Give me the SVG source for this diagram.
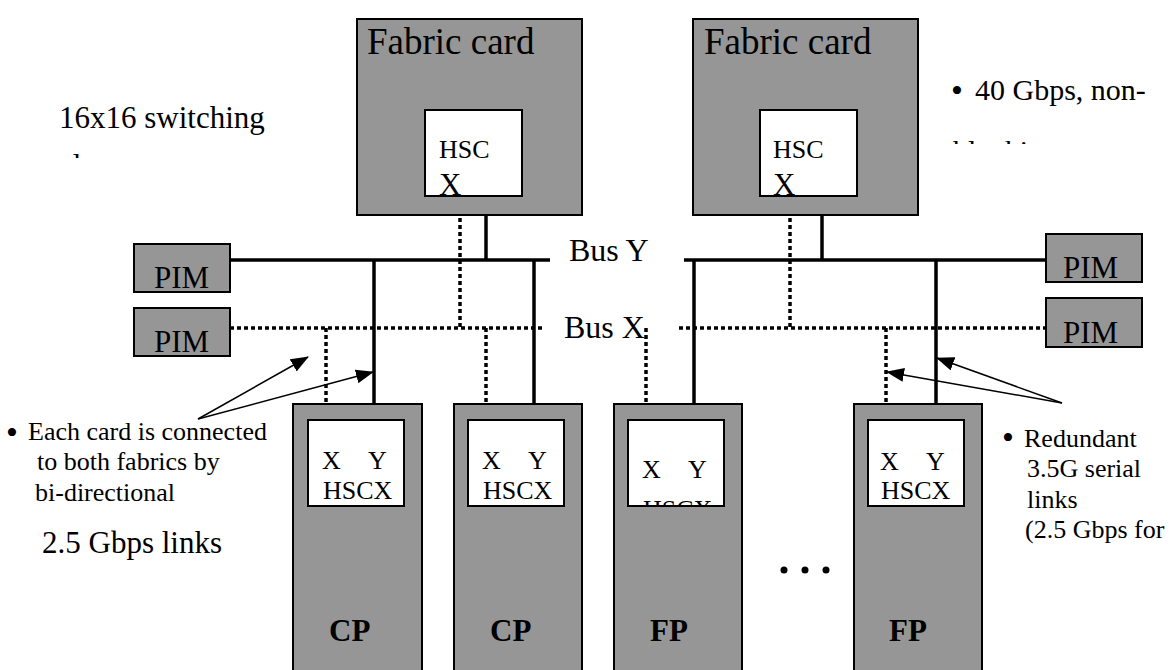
<svg xmlns="http://www.w3.org/2000/svg" width="1174" height="670" viewBox="0 0 1174 670">
  <style>
    text { font-family: "Liberation Serif", "Times New Roman", serif; fill: #000; }
    .card { fill: #969696; stroke: #000; stroke-width: 2; }
    .chip { fill: #fff; stroke: #000; stroke-width: 2; }
    .busY { stroke: #000; stroke-width: 3.5; fill: none; }
    .busX { stroke: #000; stroke-width: 3.5; fill: none; stroke-dasharray: 4 3; }
    .ptr { stroke: #000; stroke-width: 1.5; fill: none; marker-end: url(#head); }
    .big { font-size: 37px; }
    .hsc { font-size: 26px; }
    .hscx { font-size: 31px; }
    .pim { font-size: 31px; }
    .bus { font-size: 32px; }
    .port { font-size: 26px; }
    .kind { font-size: 31px; font-weight: bold; }
    .note { font-size: 26px; }
    .lead { font-size: 31px; }
    .dot { font-size: 34px; }
  </style>
  <defs>
    <marker id="head" markerUnits="userSpaceOnUse" markerWidth="18" markerHeight="14" refX="17" refY="7" orient="auto">
      <path d="M0,0 L18,7 L0,14 Z" fill="#000"/>
    </marker>
    <clipPath id="clipLeftTitle"><rect x="40" y="90" width="260" height="68"/></clipPath>
    <clipPath id="clipRightTitle"><rect x="940" y="60" width="234" height="84"/></clipPath>
    <clipPath id="clipHsc1"><rect x="425" y="111" width="96" height="85"/></clipPath>
    <clipPath id="clipHsc2"><rect x="761" y="111" width="96" height="85"/></clipPath>
    <clipPath id="clipFp1"><rect x="629" y="421" width="94" height="84"/></clipPath>
  </defs>

  <!-- feature notes at the top -->
  <g id="note-switching" clip-path="url(#clipLeftTitle)">
    <text class="lead" x="59" y="128">16x16 switching</text>
    <text class="lead" x="59" y="176">element</text>
  </g>
  <g id="note-bandwidth" clip-path="url(#clipRightTitle)">
    <text class="dot" x="951" y="102">•</text>
    <text class="lead" x="975" y="100" style="font-size:30px">40 Gbps, non-</text>
    <text class="lead" x="953" y="161" style="font-size:30px">blocking</text>
  </g>

  <!-- connectors: buses, card links and pointers -->
  <g id="connectors">
    <!-- Bus Y (solid) -->
    <line class="busY" x1="230" y1="260" x2="550" y2="260"/>
    <line class="busY" x1="684" y1="260" x2="1046" y2="260"/>
    <!-- Bus X (dotted) -->
    <line class="busX" x1="230" y1="328" x2="544" y2="328"/>
    <line class="busX" x1="679" y1="328" x2="1046" y2="328"/>
    <!-- fabric card links -->
    <line class="busY" x1="486" y1="196" x2="486" y2="260"/>
    <line class="busX" x1="460" y1="197" x2="460" y2="328"/>
    <line class="busY" x1="822" y1="196" x2="822" y2="260"/>
    <line class="busX" x1="790" y1="197" x2="790" y2="328"/>
    <!-- line card links -->
    <line class="busY" x1="374" y1="260" x2="374" y2="420"/>
    <line class="busX" x1="326" y1="328" x2="326" y2="420"/>
    <line class="busY" x1="534" y1="260" x2="534" y2="420"/>
    <line class="busX" x1="486" y1="328" x2="486" y2="420"/>
    <line class="busY" x1="694" y1="260" x2="694" y2="420"/>
    <line class="busX" x1="646" y1="328" x2="646" y2="420"/>
    <line class="busY" x1="936" y1="260" x2="936" y2="420"/>
    <line class="busX" x1="886" y1="328" x2="886" y2="420"/>
    <!-- pointers -->
    <line class="ptr" x1="198" y1="419" x2="308" y2="357"/>
    <line class="ptr" x1="198" y1="419" x2="373" y2="372"/>
    <line class="ptr" x1="1062" y1="403" x2="937" y2="358"/>
    <line class="ptr" x1="1062" y1="403" x2="887" y2="372"/>
  </g>

  <!-- bus labels -->
  <g id="label-busY"><text class="bus" x="569" y="261">Bus Y</text></g>
  <g id="label-busX"><text class="bus" x="564" y="338">Bus X</text></g>

  <!-- fabric cards -->
  <g id="fabric-1">
    <rect class="card" x="357" y="19" width="225" height="196"/>
    <text class="big" x="367" y="54">Fabric card</text>
    <rect class="chip" x="425" y="110" width="97" height="86"/>
    <g clip-path="url(#clipHsc1)">
      <text class="hsc" x="439" y="158">HSC</text>
      <text class="hscx" x="439" y="195">X</text>
    </g>
  </g>
  <g id="fabric-2">
    <rect class="card" x="693" y="19" width="225" height="196"/>
    <text class="big" x="704" y="54">Fabric card</text>
    <rect class="chip" x="760" y="110" width="97" height="86"/>
    <g clip-path="url(#clipHsc2)">
      <text class="hsc" x="773" y="158">HSC</text>
      <text class="hscx" x="773" y="195">X</text>
    </g>
  </g>

  <!-- physical interface modules -->
  <g id="pim-left-y">
    <rect class="card" x="134" y="244" width="96" height="48"/>
    <text class="pim" x="154" y="288">PIM</text>
  </g>
  <g id="pim-left-x">
    <rect class="card" x="134" y="308" width="96" height="48"/>
    <text class="pim" x="154" y="352">PIM</text>
  </g>
  <g id="pim-right-y">
    <rect class="card" x="1046" y="234" width="96" height="48"/>
    <text class="pim" x="1063" y="278">PIM</text>
  </g>
  <g id="pim-right-x">
    <rect class="card" x="1046" y="298" width="96" height="49"/>
    <text class="pim" x="1063" y="343">PIM</text>
  </g>

  <!-- line cards -->
  <g id="cp-1">
    <rect class="card" x="293" y="404" width="129" height="280"/>
    <rect class="chip" x="308" y="420" width="96" height="86"/>
    <text class="port" x="322" y="469">X</text>
    <text class="port" x="368" y="469">Y</text>
    <text class="port" x="323" y="499">HSCX</text>
    <text class="kind" x="329" y="641">CP</text>
  </g>
  <g id="cp-2">
    <rect class="card" x="454" y="404" width="128" height="280"/>
    <rect class="chip" x="468" y="420" width="96" height="86"/>
    <text class="port" x="482" y="469">X</text>
    <text class="port" x="528" y="469">Y</text>
    <text class="port" x="483" y="499">HSCX</text>
    <text class="kind" x="490" y="641">CP</text>
  </g>
  <g id="fp-1">
    <rect class="card" x="614" y="404" width="128" height="280"/>
    <rect class="chip" x="628" y="420" width="96" height="86"/>
    <text class="port" x="642" y="478">X</text>
    <text class="port" x="688" y="478">Y</text>
    <g clip-path="url(#clipFp1)">
      <text class="port" x="643" y="518">HSCX</text>
    </g>
    <text class="kind" x="650" y="641">FP</text>
  </g>
  <g id="fp-2">
    <rect class="card" x="854" y="404" width="128" height="280"/>
    <rect class="chip" x="868" y="420" width="96" height="86"/>
    <text class="port" x="880" y="470">X</text>
    <text class="port" x="926" y="470">Y</text>
    <text class="port" x="881" y="499">HSCX</text>
    <text class="kind" x="889" y="641">FP</text>
  </g>

  <!-- ellipsis between line cards -->
  <g id="more-cards">
    <circle cx="784" cy="570" r="3.5"/>
    <circle cx="805" cy="570" r="3.5"/>
    <circle cx="826" cy="570" r="3.5"/>
  </g>

  <!-- side notes -->
  <g id="note-links">
    <text class="dot" x="6" y="444">•</text>
    <text class="note" x="28" y="440">Each card is connected</text>
    <text class="note" x="37" y="470">to both fabrics by</text>
    <text class="note" x="35" y="501">bi-directional</text>
    <text class="lead" x="42" y="553">2.5 Gbps links</text>
  </g>
  <g id="note-redundant">
    <text class="dot" x="1002" y="449">•</text>
    <text class="note" x="1024" y="447">Redundant</text>
    <text class="note" x="1027" y="477">3.5G serial</text>
    <text class="note" x="1027" y="508">links</text>
    <text class="note" x="1025" y="538">(2.5 Gbps for</text>
  </g>
</svg>
